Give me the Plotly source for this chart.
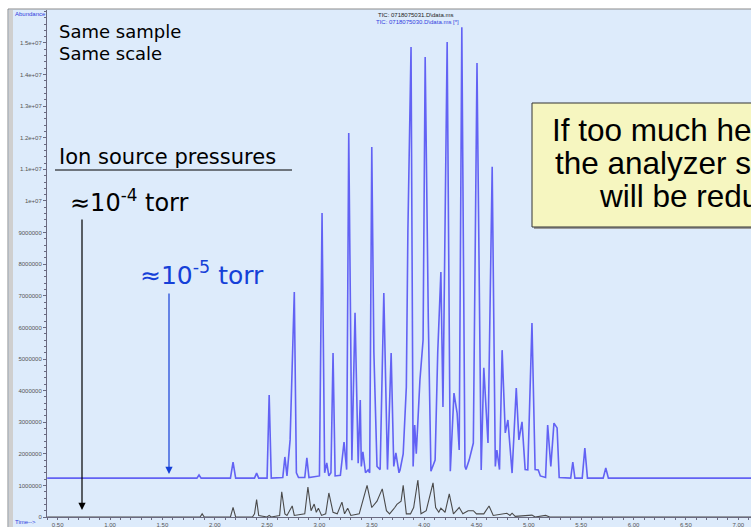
import plotly.graph_objects as go

# ---------------- data ----------------
# Blue trace: TIC 0718075030 (ion source ~1e-5 torr), time in min, abundance
blue_time = [0.40, 1.83, 1.85, 1.87, 2.15, 2.175, 2.20, 2.38, 2.40, 2.42, 2.50, 2.52, 2.54,
             2.65, 2.67, 2.69, 2.72, 2.76, 2.78, 2.80, 2.86, 2.88, 2.90,
             3.00, 3.025, 3.05, 3.07, 3.09, 3.11, 3.13, 3.15,
             3.20, 3.235, 3.26, 3.28, 3.31, 3.34, 3.37, 3.39, 3.40, 3.415, 3.44, 3.465, 3.48,
             3.50, 3.52, 3.55, 3.58, 3.615, 3.65, 3.685, 3.71, 3.73, 3.76, 3.77, 3.80, 3.83,
             3.845, 3.875, 3.895, 3.91, 3.925, 3.96, 3.99, 4.01, 4.04, 4.065, 4.085, 4.105,
             4.13, 4.16, 4.18, 4.22, 4.25, 4.285, 4.315, 4.335, 4.36, 4.39, 4.40, 4.43, 4.47,
             4.505, 4.545, 4.57, 4.61, 4.65, 4.68, 4.695, 4.72, 4.745, 4.775, 4.80, 4.84,
             4.88, 4.905, 4.935, 4.965, 4.99, 5.03, 5.06, 5.09, 5.11, 5.16, 5.18, 5.21, 5.24,
             5.27, 5.29, 5.40, 5.42, 5.44, 5.51, 5.535, 5.56, 5.71, 5.735, 5.76, 7.15]
blue_abund = [1.23e6, 1.23e6, 1.33e6, 1.23e6, 1.23e6, 1.74e6, 1.23e6, 1.23e6, 1.39e6, 1.23e6, 1.23e6, 3.86e6, 1.23e6,
              1.25e6, 1.90e6, 1.30e6, 2.44e6, 7.12e6, 1.40e6, 1.25e6, 1.25e6, 1.87e6, 1.25e6,
              1.30e6, 9.62e6, 1.40e6, 1.71e6, 1.30e6, 1.40e6, 5.19e6, 1.30e6,
              1.32e6, 2.37e6, 1.50e6, 12.15e6, 1.80e6, 6.46e6, 1.70e6, 3.70e6, 1.60e6, 2.06e6, 1.40e6, 1.49e6, 1.40e6,
              11.71e6, 5.22e6, 1.60e6, 1.50e6, 7.09e6, 1.50e6, 5.19e6, 1.60e6, 2.03e6, 1.40e6, 1.49e6, 2.0e6, 4.11e6,
              9.08e6, 14.87e6, 1.60e6, 2.91e6, 2.0e6, 4.34e6, 5.60e6, 14.56e6, 6.23e6, 1.45e6, 1.60e6, 1.80e6,
              5.22e6, 7.75e6, 3.48e6, 15.03e6, 1.45e6, 3.92e6, 3.29e6, 2.12e6, 15.5e6, 1.60e6, 1.50e6, 1.80e6, 2.34e6,
              14.37e6, 1.49e6, 4.72e6, 2.34e6, 11.08e6, 1.60e6, 2.12e6, 1.50e6, 5.28e6, 2.66e6, 3.07e6, 1.39e6,
              4.08e6, 2.44e6, 3.01e6, 1.50e6, 1.49e6, 6.14e6, 1.50e6, 1.49e6, 1.30e6, 1.25e6, 2.91e6, 1.60e6, 2.97e6,
              2.82e6, 1.25e6, 1.23e6, 1.74e6, 1.23e6, 1.23e6, 2.18e6, 1.23e6, 1.23e6, 1.55e6, 1.23e6, 1.23e6]

# Black trace: TIC 0718075031 (ion source ~1e-4 torr)
black_time = [0.40, 1.86, 1.88, 1.90, 2.15, 2.175, 2.20, 2.36, 2.38, 2.40, 2.42, 2.50, 2.52, 2.54,
              2.62, 2.64, 2.67, 2.69, 2.74, 2.76, 2.86, 2.89, 2.92, 2.95, 2.97, 2.99, 3.02,
              3.06, 3.09, 3.13, 3.17, 3.215, 3.24, 3.27, 3.30, 3.38, 3.455, 3.50, 3.55, 3.60,
              3.64, 3.67, 3.72, 3.74, 3.78, 3.80, 3.83, 3.87, 3.90, 3.94, 3.97, 4.02, 4.085,
              4.11, 4.14, 4.16, 4.20, 4.24, 4.28, 4.335, 4.37, 4.42, 4.47, 4.50, 4.57, 4.62,
              4.66, 4.79, 4.82, 4.84, 4.87, 5.03, 5.06, 5.16, 5.20, 7.15]
black_abund = [0, 0, 0.1e6, 0, 0, 0.30e6, 0, 0, 0.1e6, 0.55e6, 0.05e6, 0, 0.05e6, 0,
               0.05e6, 0.80e6, 0.1e6, 0.05e6, 0.35e6, 0.05e6, 0.1e6, 0.95e6, 0.2e6, 0.41e6, 0.15e6, 0.28e6, 0.05e6,
               0.1e6, 0.76e6, 0.15e6, 0.1e6, 0.47e6, 0.1e6, 0.28e6, 0.05e6, 0.1e6, 1.0e6, 0.3e6, 0.5e6, 0.89e6,
               0.2e6, 0.1e6, 0.3e6, 0.4e6, 0.5e6, 1.0e6, 0.1e6, 0.1e6, 0.3e6, 1.17e6, 0.1e6, 0.2e6, 1.08e6,
               0.3e6, 0.15e6, 0.28e6, 0.15e6, 0.73e6, 0.1e6, 0.3e6, 0.1e6, 0.2e6, 0.2e6, 0.1e6, 0.1e6, 0.35e6,
               0.05e6, 0.12e6, 0.05e6, 0.12e6, 0.02e6, 0.06e6, 0, 0.05e6, 0, 0]

y_tick_vals = [0, 1e6, 2e6, 3e6, 4e6, 5e6, 6e6, 7e6, 8e6, 9e6, 1e7, 1.1e7, 1.2e7, 1.3e7, 1.4e7, 1.5e7]
y_tick_text = ["0", "1000000", "2000000", "3000000", "4000000", "5000000", "6000000", "7000000",
               "8000000", "9000000", "1e+07", "1.1e+07", "1.2e+07", "1.3e+07", "1.4e+07", "1.5e+07"]
x_tick_vals = [0.5, 1.0, 1.5, 2.0, 2.5, 3.0, 3.5, 4.0, 4.5, 5.0, 5.5, 6.0, 6.5, 7.0]
x_tick_text = ["0.50", "1.00", "1.50", "2.00", "2.50", "3.00", "3.50", "4.00", "4.50",
               "5.00", "5.50", "6.00", "6.50", "7.00"]

# ---------------- figure ----------------
W, H = 751, 527
def fx(p): return p / W
def fy(p): return 1 - p / H

BG = "#DDEBFB"
BLUE_TEXT = "#1540D8"

fig = go.Figure()
fig.add_trace(go.Scatter(x=blue_time, y=blue_abund, mode="lines",
                         line=dict(color="#6262F4", width=1.6), hoverinfo="skip"))
fig.add_trace(go.Scatter(x=black_time, y=black_abund, mode="lines",
                         line=dict(color="#4A4A4A", width=1.1), hoverinfo="skip"))

axis_color = "#6A6A80"
fig.update_layout(
    width=W, height=H,
    margin=dict(l=0, r=0, t=0, b=0),
    paper_bgcolor="white",
    plot_bgcolor="rgba(0,0,0,0)",
    showlegend=False,
    xaxis=dict(domain=[47 / W, 1], range=[0.398, 7.122], tickvals=x_tick_vals, ticktext=x_tick_text,
               ticks="outside", ticklen=2, tickcolor=axis_color, showline=True, linecolor=axis_color,
               linewidth=1, showgrid=False, zeroline=False, automargin=False,
               tickfont=dict(size=6, color="#555555", family="Arial"),
               minor=dict(ticks="outside", ticklen=2, tickcolor=axis_color, dtick=0.1, tick0=0)),
    yaxis=dict(domain=[10 / H, 517 / H], range=[0, 16.044e6], tickvals=y_tick_vals, ticktext=y_tick_text,
               ticks="outside", ticklen=3, tickcolor=axis_color, showline=True, linecolor=axis_color,
               linewidth=1, showgrid=False, zeroline=False, automargin=False,
               tickfont=dict(size=6, color="#555555", family="Arial"),
               minor=dict(ticks="outside", ticklen=2, tickcolor=axis_color, dtick=2e5, tick0=0)),
)

shapes = [
    # window background
    dict(type="rect", xref="paper", yref="paper", x0=fx(8), x1=fx(760), y0=fy(9), y1=fy(540),
         fillcolor=BG, line=dict(color="#8A8A8A", width=1), layer="below"),
    # left grey frame bar
    dict(type="rect", xref="paper", yref="paper", x0=fx(9), x1=fx(13), y0=fy(10), y1=fy(540),
         fillcolor="#CFCFCF", line=dict(width=0), layer="below"),
    # underline of "Ion source pressures"
    dict(type="line", xref="paper", yref="paper", x0=fx(55), x1=fx(292), y0=fy(170), y1=fy(170),
         line=dict(color="black", width=1)),
    # yellow box shadow
    dict(type="rect", xref="paper", yref="paper", x0=fx(534), x1=fx(770), y0=fy(105), y1=fy(229),
         fillcolor="#9A9A9A", line=dict(width=0), layer="above"),
    # yellow box
    dict(type="rect", xref="paper", yref="paper", x0=fx(532), x1=fx(770), y0=fy(103), y1=fy(227),
         fillcolor="#F6F6C0", line=dict(color="#333333", width=1), layer="above"),
]
fig.update_layout(shapes=shapes)

ann = []
def text(x, y, s, size, color="black", family="DejaVu Sans", xanchor="left"):
    ann.append(dict(xref="paper", yref="paper", x=fx(x), y=fy(y), text=s, showarrow=False,
                    xanchor=xanchor, yanchor="middle", font=dict(size=size, color=color, family=family)))

text(13, 14, "Abundance", 6, "#3040E0", "Arial")
text(13, 522, "Time-->", 6, "#3040E0", "Arial")
text(415, 15, "TIC: 0718075031.D\\data.ms", 6, "#222222", "Arial", "center")
text(417, 22, "TIC: 0718075030.D\\data.ms [*]", 6, "#3040E0", "Arial", "center")
text(57, 31, "Same sample", 18)
text(57, 53, "Same scale", 18)
text(57, 157, "Ion source pressures", 21)
text(68, 201, "≈10<sup>-4</sup> torr", 24)
text(138, 273, "≈10<sup>-5</sup> torr", 25, BLUE_TEXT)
text(550, 130, "If too much helium is used,", 31.5, "black", "Liberation Sans")
text(553, 163, "the analyzer sensitivity", 31.5, "black", "Liberation Sans")
text(597, 196, "will be reduced", 31.5, "black", "Liberation Sans")

# arrows
ann.append(dict(xref="paper", yref="paper", x=fx(82), y=fy(510), ax=0, ay=-292, axref="pixel", ayref="pixel",
                showarrow=True, arrowhead=2, arrowsize=1.2, arrowwidth=1.2, arrowcolor="black", text=""))
ann.append(dict(xref="paper", yref="paper", x=fx(169), y=fy(474), ax=0, ay=-182, axref="pixel", ayref="pixel",
                showarrow=True, arrowhead=2, arrowsize=1.2, arrowwidth=1.2, arrowcolor=BLUE_TEXT, text=""))
fig.update_layout(annotations=ann)

fig.write_html("out.html")
